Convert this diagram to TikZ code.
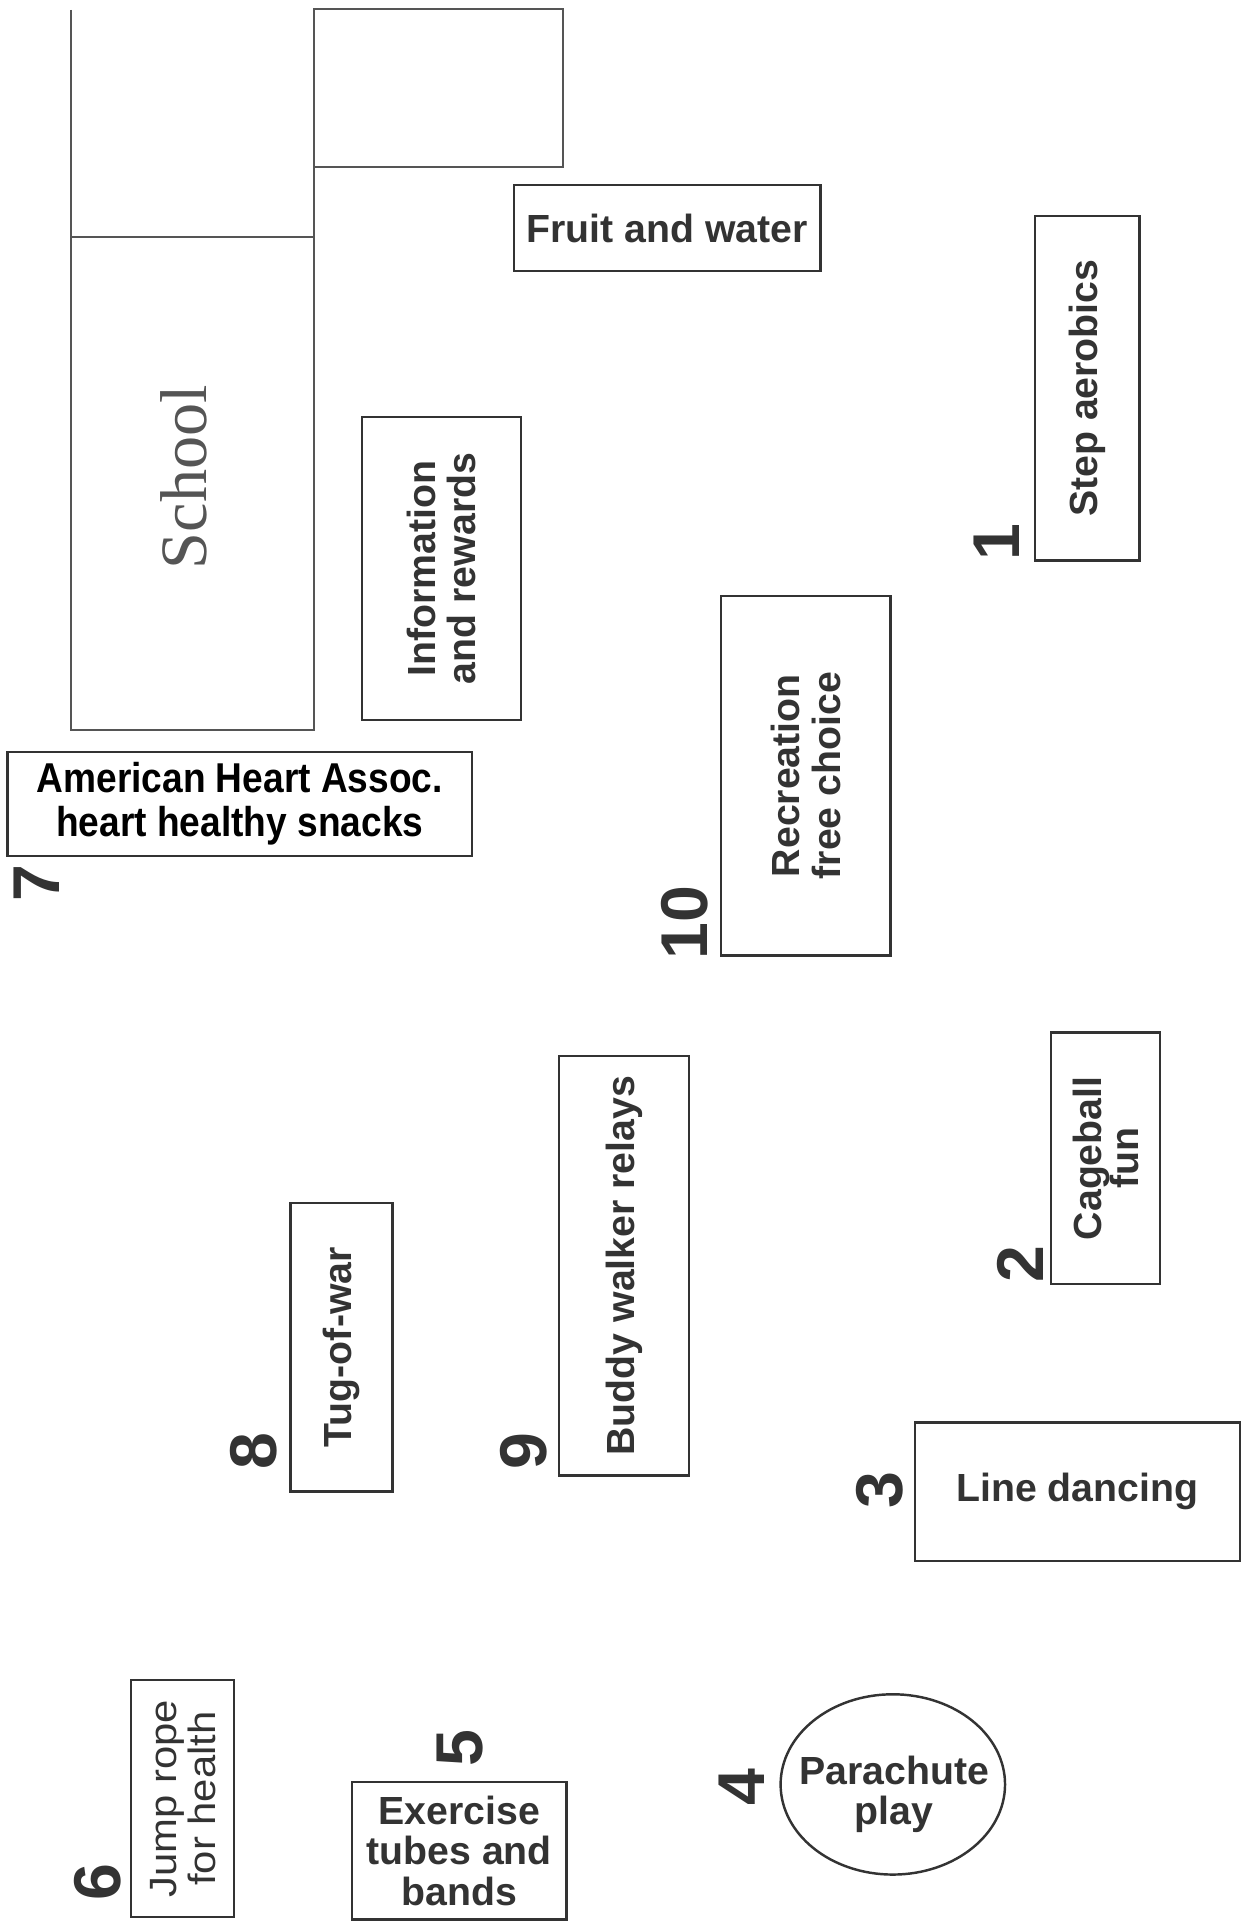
\documentclass[tikz,border=0pt]{standalone}
\usepackage{fontspec}
\setmainfont{Liberation Sans}
\newfontfamily\hvb{Liberation Sans Bold}
\newfontfamily\hvw[FakeStretch=1.1]{Liberation Sans}
\newfontfamily\hvn[FakeStretch=0.89]{Liberation Sans Bold}
\newfontfamily\tms{Liberation Serif}
\usetikzlibrary{shapes.geometric}
\definecolor{ink}{HTML}{333333}
\definecolor{wallc}{HTML}{555555}
\begin{document}
\begin{tikzpicture}[x=1pt,y=-1pt,
  box/.style={draw=ink, line width=2pt, inner sep=0pt, text=ink, align=center,
    font=\hvb\fontsize{32}{33}\selectfont},
  lbl/.style={inner sep=0pt, text=ink, align=center, font=\hvb\fontsize{32}{33}\selectfont},
  num/.style={rotate=90, text=ink, inner sep=0pt, font=\hvb\fontsize{54}{54}\selectfont},
  wall/.style={draw=wallc, line width=1.5pt}]
\useasboundingbox (0,0) rectangle (1014,1568);
% school building
\draw[wall] (58,8) -- (58,595) -- (256,595) -- (256,136);
\draw[wall] (58,193) -- (256,193);
\draw[wall] (256,7) rectangle (459,136);
\node[rotate=90, inner sep=0pt, text=wallc, font=\tms\fontsize{54}{54}\selectfont] (school) at (150,389) {School};
% stations
\node[box, minimum width=250pt, minimum height=70pt] (fruit) at (544,186) {Fruit and water};
\node[box, rotate=90, minimum width=247pt, minimum height=130pt] (info) at (360,463.5) {Information\\and rewards};
\node[box, rotate=90, minimum width=281pt, minimum height=85pt] (step) at (886.5,316.5) {Step aerobics};
\node[box, rotate=90, minimum width=293pt, minimum height=138pt] (recr) at (657,632.5) {Recreation\\free choice};
\node[box, minimum width=379pt, minimum height=85pt, text=black, font=\hvn\fontsize{34}{36}\selectfont] (aha) at (195.5,655.5) {American Heart Assoc.\\heart healthy snacks};
\node[box, rotate=90, minimum width=205pt, minimum height=89pt, font=\hvb\fontsize{32}{30}\selectfont] (cage) at (901.5,944.5) {Cageball\\fun};
\node[box, rotate=90, minimum width=235pt, minimum height=83pt] (tug) at (278.5,1098.5) {Tug-of-war};
\node[box, rotate=90, minimum width=342pt, minimum height=106pt] (buddy) at (509,1032) {Buddy walker relays};
\node[box, minimum width=265pt, minimum height=113pt] (line) at (878.5,1216.5) {Line dancing};
\node[draw=ink, line width=2pt, ellipse, inner sep=0pt, minimum width=183pt, minimum height=147pt] (para) at (728,1455) {};
\node[lbl] (paratext) at (729,1463) {Parachute\\play};
\node[box, rotate=90, minimum width=193pt, minimum height=84pt, font=\hvw\fontsize{31}{32}\selectfont] (jump) at (149,1466.5) {Jump rope\\for health};
\node[box, minimum width=175pt, minimum height=112pt] (exer) at (374.5,1509) {Exercise\\tubes and\\bands};
% numbers
\node[num] (n1) at (813,442) {1};
\node[num] (n2) at (832,1031) {2};
\node[num] (n3) at (717,1215) {3};
\node[num] (n4) at (605,1457) {4};
\node[num] (n5) at (375,1425) {5};
\node[num] (n6) at (80,1535) {6};
\node[num] (n7) at (30,720) {7};
\node[num] (n8) at (207,1183) {8};
\node[num] (n9) at (427,1183) {9};
\node[num] (n10) at (558,752) {10};
\end{tikzpicture}
\end{document}
